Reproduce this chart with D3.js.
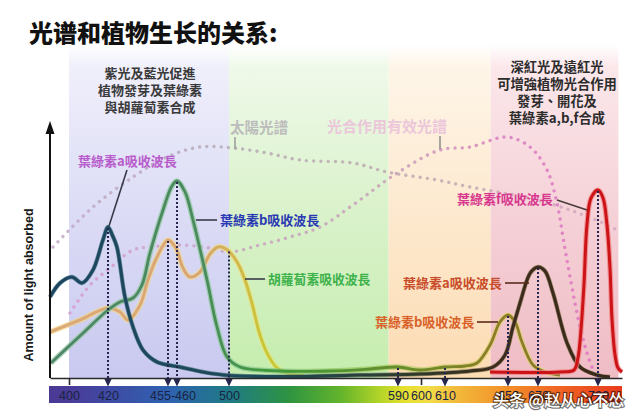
<!DOCTYPE html>
<html><head><meta charset="utf-8">
<script src="https://cdn.jsdelivr.net/npm/d3@7"></script>
<style>body{margin:0;background:#fff}svg{display:block}</style>
</head><body>
<svg id="c" width="640" height="420"></svg>
<script>
// ---------------- data ----------------
const title = "光谱和植物生长的关系:";
const yAxisLabel = "Amount of light absorbed";
const leftNote = ["紫光及藍光促進", "植物發芽及葉綠素", "與胡蘿蔔素合成"];
const rightNote = ["深紅光及遠紅光", "可增強植物光合作用", "發芽、開花及", "葉綠素a,b,f合成"];
const tickNm = [400, 420, 457.5, 500, 590, 600, 610, 650, 670, 720];
const tickLabels = ["400", "420", "455-460", "500", "590", "600", "610", "650", "670", "720"];
const minorTicks = [400, 600];
const bandEdges = [400, 500, 585, 639, 737];

// chlorophyll a (nm, absorbance)
const chlA_nm  = [390,395.3,401.5,406.7,412.3,417.4,420,422.6,425.2,429.9,434.6,440.4,448.6,462.3,480,500,540,570,600,626,640.5,648.1,653.3,658,662.7,665.3,670,675.8,682.5,694.2,705,719.2,730];
const chlA_val = [32.4,38,40.4,38,43.2,55.2,60.4,57,52.4,32.4,20.4,11.2,6.4,4.4,2.4,1,0.6,1.2,1.6,2.8,4.4,9.2,20.4,30,39.2,42.4,44.4,42.8,34,14,4.4,1.2,0.4];
// chlorophyll b
const chlB_nm  = [390.5,405.6,420,427,434.6,439.8,444.5,452.1,457.2,460,466.2,472.3,483.1,490.8,498.5,505.9,527.2,553.8,575,590,599.6,610,622.7,630.3,638.6,644.9,650,654.7,659.3,666.7,675.8,688.3];
const chlB_val = [6,16.8,27.2,30.4,32,37.2,50,67.2,76.8,78.8,74.4,63.2,39.2,20.4,8.4,4.4,2.8,2.8,3.6,4.4,3.2,4.4,4.8,6,13.2,22.4,25.2,22.4,14.4,5.2,2.4,1.2];
// carotenoids
const caro_nm  = [390,405.6,420,427,431.7,438.7,443.3,448.6,455,459.4,464.6,470,477.7,485.4,491.5,497.7,504.3,508.5,512.2,516.5,520.8,525.6,532.5,540];
const caro_val = [18.4,23.2,28,26.4,23.2,29.2,39.2,48.4,55.2,52,44,40.4,42.4,49.6,52.4,51.6,46.4,39.2,30,17.2,9.2,4,1.6,1];
// chlorophyll f
const chlF_nm  = [638.6,688.3,700,703.3,705.8,708.3,710.8,714.2,720,724.2,727.5,730,731.7,734.2,736.7,740];
const chlF_val = [2.4,2.4,3.2,8,19.2,37.2,61.2,72,75.2,72,61.2,44,23.2,9.2,4,2.4];
// solar spectrum (dotted)
const sun_nm  = [391.6,412.3,434.6,454.4,477.7,502.1,520.2,537.8,566,584.1,606.7,625.9,646.8,669.3,696.7,724.2,735.8];
const sun_val = [52.4,68.4,80.4,88.4,92.4,92,90,87.2,86,82.4,79.2,76.4,74,71.2,67.2,62,59.2];
// photosynthetically effective spectrum (dotted)
const par_nm  = [400.5,410.8,421.2,434.6,444.5,462.3,485.4,500,516.5,532.5,548.5,566,589.6,607.9,625.9,649.4,664.7,677.5,685.8,690.8,696.7,705,710.8,715.8];
const par_val = [26,37.2,44,51.2,52.4,53.2,52,50.4,53.2,56.4,60.4,69.2,82,91.2,92.4,96.4,92.4,83.2,70,56.4,40.4,20.4,10,3.2];
// peak markers
const arrowNm  = [420, 455, 460, 500, 590, 610, 650, 670, 720];
const arrowTop = [60.4, 55.2, 78.8, 51, 4.4, 4.4, 25.2, 44.4, 75.2];

// ---------------- drawing ----------------
const svg = d3.select("#c");
const defs = svg.append("defs");
const x = d3.scaleLinear()
  .domain([390,400,420,455,460,500,590,600,610,650,670,720,740])
  .range([50,69,108,168,177,229,398,421,445,508,538,598,622]);
const y = d3.scaleLinear().domain([0,100]).range([378,128]);
const X0 = x(390), X1 = x(740);

function hGrad(id, stops){
  const g = defs.append("linearGradient").attr("id", id).attr("gradientUnits","userSpaceOnUse")
    .attr("x1", X0).attr("x2", X1).attr("y1", 0).attr("y2", 0);
  stops.forEach(([nm,c]) => g.append("stop").attr("offset", (x(nm)-X0)/(X1-X0)).attr("stop-color", c));
  return `url(#${id})`;
}

// background bands
const bandCols = [["#efeffb","#dcdcf6","#c9c9f0"],["#eff9e9","#daf2cb","#c5edae"],["#fef5e8","#fde9cf","#fcdcb3"],["#fbe7ea","#f5d2d8","#efbcc4"]];
bandCols.forEach((c,i) => {
  const g = defs.append("linearGradient").attr("id","band"+i).attr("gradientUnits","userSpaceOnUse")
    .attr("x1",0).attr("x2",0).attr("y1",44).attr("y2",378);
  g.append("stop").attr("offset",0).attr("stop-color",c[0]).attr("stop-opacity",0);
  g.append("stop").attr("offset",0.07).attr("stop-color",c[0]);
  g.append("stop").attr("offset",0.5).attr("stop-color",c[1]);
  g.append("stop").attr("offset",1).attr("stop-color",c[2]);
});
svg.append("g").selectAll("rect").data(d3.range(bandEdges.length-1)).join("rect")
  .attr("x", i => x(bandEdges[i])).attr("width", i => x(bandEdges[i+1]) - x(bandEdges[i]))
  .attr("y", 44).attr("height", 378-44).attr("fill", i => `url(#band${i})`);

// spectrum bar
const sg = defs.append("linearGradient").attr("id","spec");
[[0,"#4b3a94"],[0.037,"#4a3c98"],[0.103,"#3f4aa4"],[0.21,"#2e62b0"],[0.314,"#1f7a86"],[0.42,"#2e9440"],[0.508,"#62b42c"],[0.578,"#b4d428"],[0.62,"#e6e02e"],[0.663,"#f2dc48"],[0.715,"#f2b83a"],[0.803,"#f28e28"],[0.892,"#f06424"],[1,"#e83a1c"]]
  .forEach(([o,c]) => sg.append("stop").attr("offset",o).attr("stop-color",c));
svg.append("rect").attr("x", X0-1).attr("y", 386).attr("width", X1-X0+1).attr("height", 17).attr("fill","url(#spec)");

// title
svg.append("text").attr("x", 29).attr("y", 42).text(title)
  .attr("font-family","'Noto Sans CJK SC'").attr("font-weight",900).attr("font-size",24).attr("fill","#111");

// notes
const noteFont = "'Noto Sans CJK TC'";
svg.append("g").selectAll("text").data(leftNote).join("text")
  .attr("x", 150).attr("y", (d,i) => 78 + i*16.8).attr("text-anchor","middle")
  .attr("font-family",noteFont).attr("font-weight",700).attr("font-size",13).attr("fill","#3a3a3a").text(d => d);
svg.append("g").selectAll("text").data(rightNote).join("text")
  .attr("x", 557).attr("y", (d,i) => 72 + i*17).attr("text-anchor","middle")
  .attr("font-family",noteFont).attr("font-weight",700).attr("font-size",13.3).attr("fill","#2c2c2c").text(d => d);

// dotted spectra
const line = d3.line().x(d => x(d[0])).y(d => y(d[1])).curve(d3.curveCatmullRom.alpha(0.5));
const zip = (a,b) => a.map((v,i) => [v, b[i]]);
function dotted(nm, val, color){
  svg.append("path").attr("d", line(zip(nm,val))).attr("fill","none").attr("stroke",color)
    .attr("stroke-width",3.4).attr("stroke-linecap","round").attr("stroke-dasharray","0.01 7.2").attr("opacity",0.85);
}
dotted(sun_nm, sun_val, hGrad("gsun", [[390,"#c4a8c8"],[500,"#b4aab4"],[600,"#c0a8b0"],[740,"#d8a8c0"]]));
dotted(par_nm, par_val, hGrad("gpar", [[390,"#d89ad2"],[500,"#c8a4c0"],[590,"#c8a0b8"],[640,"#d880c0"],[740,"#e070c0"]]));

// absorption curves
function curve(nm, val, core, halo, wc, wh){
  const d = line(zip(nm,val));
  svg.append("path").attr("d", d).attr("fill","none").attr("stroke",halo).attr("stroke-width",wh).attr("opacity",0.75).attr("stroke-linejoin","round");
  svg.append("path").attr("d", d).attr("fill","none").attr("stroke",core).attr("stroke-width",wc).attr("stroke-linejoin","round");
}
curve(caro_nm, caro_val,
  hGrad("gc", [[390,"#dcab7a"],[480,"#d9a474"],[500,"#d2b450"],[520,"#c8c838"]]),
  hGrad("gch",[[390,"#f2d680"],[480,"#f0d890"],[520,"#e6e880"]]), 3, 5.6);
curve(chlB_nm, chlB_val,
  hGrad("gb", [[390,"#4e8668"],[480,"#4a8a5c"],[520,"#3e9a3c"],[600,"#6e8a28"],[640,"#8c7e28"],[690,"#8a7a2a"]]),
  hGrad("gbh",[[390,"#98c8a6"],[500,"#8ac89a"],[560,"#90c860"],[640,"#e4d070"],[690,"#e0d080"]]), 2.8, 5.4);
curve(chlA_nm, chlA_val,
  hGrad("ga", [[390,"#1c4660"],[520,"#1e4a5a"],[600,"#2f3a26"],[640,"#3a2c1c"],[740,"#3a2a1a"]]),
  hGrad("gah",[[390,"#4c7a8c"],[520,"#4c7a7c"],[640,"#8a7050"],[740,"#8a7050"]]), 3.1, 4.4);
curve(chlF_nm, chlF_val, "#cc1418", "#f08080", 3, 5.2);

// axes
const axG = svg.append("g").attr("transform",`translate(0,${y(0)})`)
  .call(d3.axisBottom(x).tickValues(minorTicks).tickSize(7).tickSizeOuter(0).tickFormat(""));
axG.select(".domain").attr("stroke","#2a2a2a").attr("stroke-width",1.6);
axG.selectAll(".tick line").attr("stroke","#2a2a2a").attr("stroke-width",1.6);

svg.append("line").attr("x1", X0).attr("x2", X0).attr("y1", y(0)).attr("y2", 132).attr("stroke","#111").attr("stroke-width",2);
svg.append("path").attr("d", `M${X0},121 L${X0-4.5},134 L${X0+4.5},134 Z`).attr("fill","#111");

svg.append("text").attr("transform",`translate(33,285) rotate(-90)`).attr("text-anchor","middle")
  .attr("font-family","'Liberation Sans', Arial, sans-serif").attr("font-weight",700).attr("font-size",12.6)
  .attr("fill","#1a1a1a").text(yAxisLabel);

// peak arrows
const ag = svg.append("g");
ag.selectAll("line").data(arrowNm).join("line")
  .attr("x1", d => x(d)).attr("x2", d => x(d))
  .attr("y1", (d,i) => y(arrowTop[i]) + 1).attr("y2", 381)
  .attr("stroke","#25254e").attr("stroke-width",2).attr("stroke-dasharray","2 2");
ag.selectAll("path").data(arrowNm).join("path")
  .attr("d", d => `M${x(d)-3.6},379 L${x(d)+3.6},379 L${x(d)},386.5 Z`).attr("fill","#25254e");

// tick labels on the spectrum bar
const lab = svg.append("g").attr("transform","translate(0,388)")
  .call(d3.axisBottom(x).tickValues(tickNm).tickSize(0).tickPadding(3).tickFormat((d,i) => tickLabels[i]));
lab.select(".domain").remove();
lab.selectAll("text").attr("font-family","'Liberation Sans', Arial, sans-serif").attr("font-size",12.5).attr("fill","#1a2444");

// curve labels + pointers
const labels = [
  {t:"葉綠素a吸收波長", x:78,  y:166, c:"#b85ccc", s:13},
  {t:"葉綠素b吸收波長", x:220, y:225, c:"#2a3ab2", s:13},
  {t:"胡蘿蔔素吸收波長", x:268, y:284, c:"#3cb24a", s:12.8},
  {t:"葉綠素f吸收波長", x:457, y:204, c:"#d8388e", s:13},
  {t:"葉綠素a吸收波長", x:403, y:288, c:"#c84c2a", s:13},
  {t:"葉綠素b吸收波長", x:375, y:327, c:"#d8622a", s:13},
  {t:"太陽光譜", x:230, y:133, c:"#bcbcbc", s:14.5},
  {t:"光合作用有效光譜", x:327, y:132, c:"#ecc6da", s:15}
];
svg.append("g").selectAll("text").data(labels).join("text")
  .attr("x", d => d.x).attr("y", d => d.y).attr("fill", d => d.c).attr("font-size", d => d.s)
  .attr("font-family",noteFont).attr("font-weight",700).text(d => d.t);

const pointers = [
  [127,170, x(420)+1, y(60.4)-1, "#3a3a4a"],
  [196,220, 217,220, "#3a3a4a"],
  [245,279, 265,279, "#3a3a4a"],
  [557,200, 587,210, "#4a3a3a"],
  [505,283, 529,283, "#5a2a1a"],
  [477,322, 498,322, "#5a2a1a"],
  [235,137, 235,149, "#a0a0a0"],
  [440,136, 440,149, "#909090"]
];
svg.append("g").selectAll("line").data(pointers).join("line")
  .attr("x1", d => d[0]).attr("y1", d => d[1]).attr("x2", d => d[2]).attr("y2", d => d[3])
  .attr("stroke", d => d[4]).attr("stroke-width",1.6);

// watermark (overlaps the 650/670/720 labels, as in the reference)
svg.append("text").attr("x", 493).attr("y", 406).text("头条 @赵从心不怂")
  .attr("font-family","'Noto Sans CJK SC'").attr("font-size",16).attr("font-weight",500)
  .attr("fill","#fff").attr("stroke","rgba(0,0,0,0.55)").attr("stroke-width",2.4).attr("paint-order","stroke");
</script>
</body></html>
